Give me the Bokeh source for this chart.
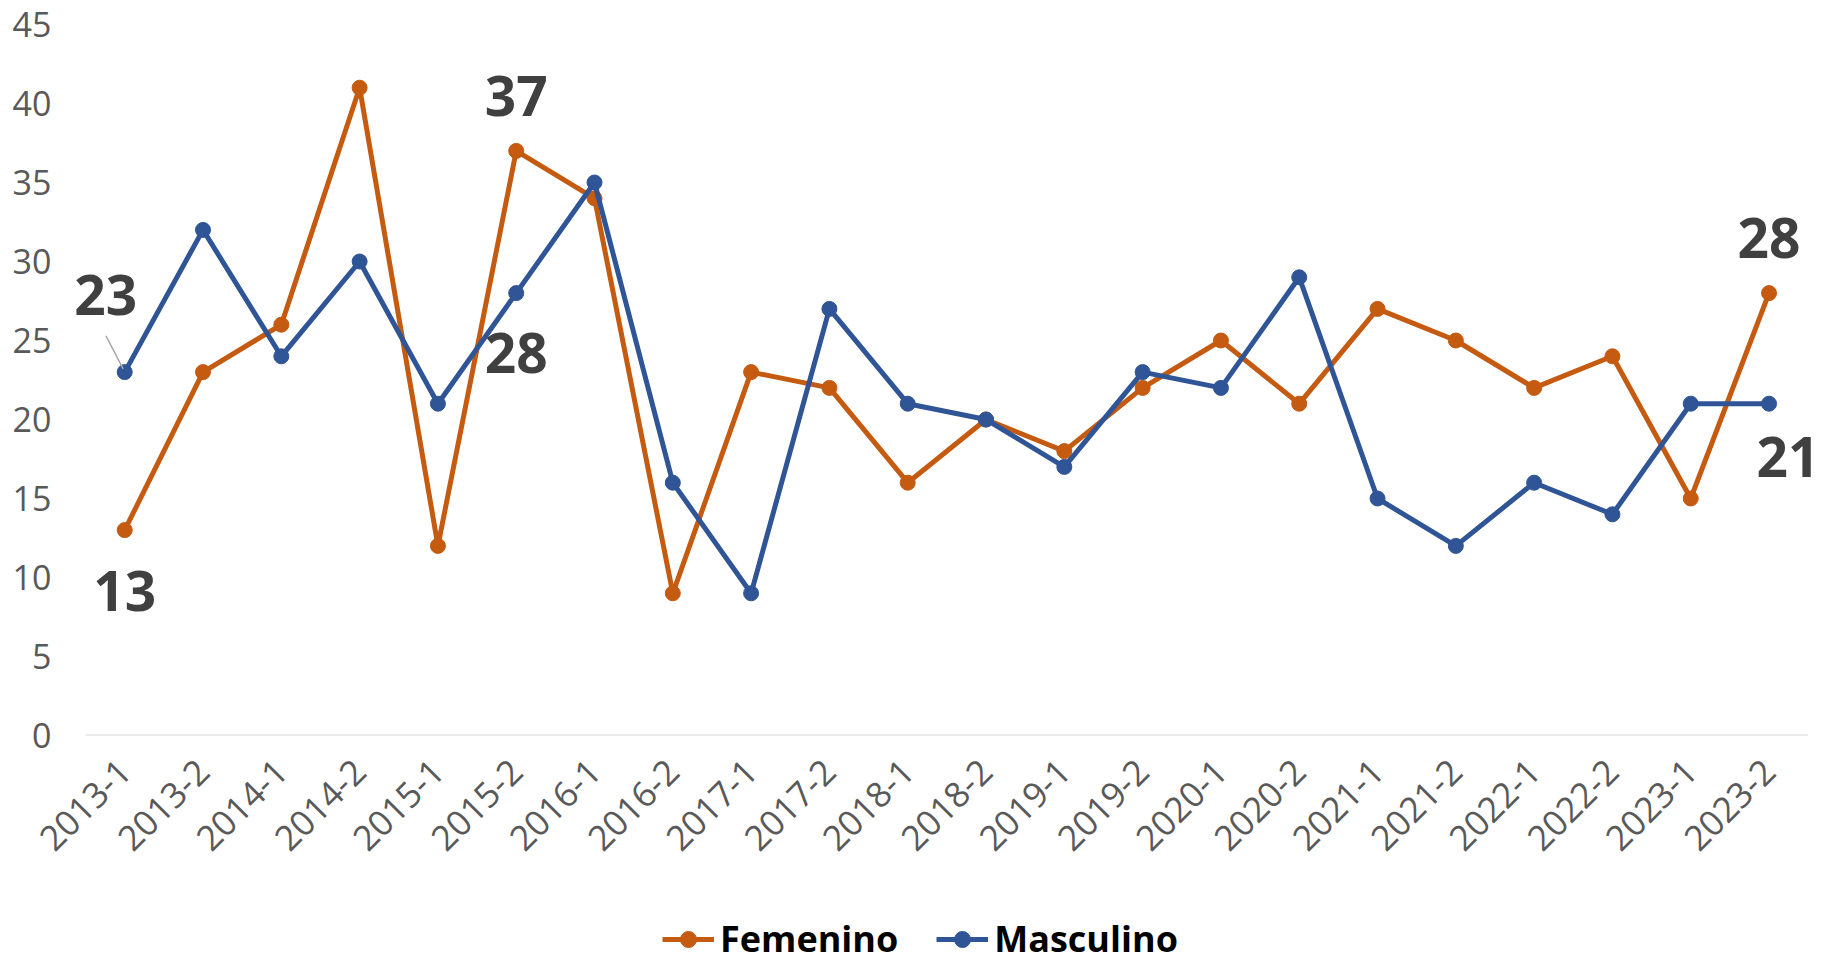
import math
from bokeh.plotting import figure
from bokeh.layouts import column
from bokeh.models import (ColumnDataSource, Range1d, FixedTicker,
                          LabelSet, Legend, LegendItem)
from bokeh.core.properties import value
from bokeh.embed import file_html
from bokeh.resources import INLINE

# ---------------- data ----------------
periods = ["2013-1", "2013-2", "2014-1", "2014-2", "2015-1", "2015-2",
           "2016-1", "2016-2", "2017-1", "2017-2", "2018-1", "2018-2",
           "2019-1", "2019-2", "2020-1", "2020-2", "2021-1", "2021-2",
           "2022-1", "2022-2", "2023-1", "2023-2"]
femenino = [13, 23, 26, 41, 12, 37, 34, 9, 23, 22, 16, 20,
            18, 22, 25, 21, 27, 25, 22, 24, 15, 28]
masculino = [23, 32, 24, 30, 21, 28, 35, 16, 9, 27, 21, 20,
             17, 23, 22, 29, 15, 12, 16, 14, 21, 21]
y_ticks = [0, 5, 10, 15, 20, 25, 30, 35, 40, 45]

# points that carry a data label
fem_label_idx = [0, 5, 21]
masc_label_idx = [0, 5, 21]

# ---------------- style ----------------
FEM = "#C55A11"
MASC = "#2F5597"
FONT = "Open Sans"
N = len(periods)
xs = list(range(N))

p = figure(width=1821, height=895,
           x_range=Range1d(-0.5 - 0.32, N - 0.5 + 0.17),
           y_range=Range1d(0, 45),
           output_backend="svg", toolbar_location=None,
           min_border_left=60, min_border_right=0,
           min_border_top=24, min_border_bottom=160)
p.outline_line_color = None
p.background_fill_color = "white"
p.border_fill_color = "white"
p.grid.visible = False

src = ColumnDataSource(dict(x=xs, fem=femenino, masc=masculino))

# category baseline (x axis line)
p.segment(x0=[-0.5], y0=[0], x1=[N - 0.5], y1=[0],
          line_color="#D9D9D9", line_width=2)

fl = p.line("x", "fem", source=src, line_color=FEM, line_width=5)
fs = p.scatter("x", "fem", source=src, size=15, color=FEM)
ml = p.line("x", "masc", source=src, line_color=MASC, line_width=5)
ms = p.scatter("x", "masc", source=src, size=15, color=MASC)

# leader line for first Masculino label
p.segment(x0=[xs[0] - 0.24], y0=[masculino[0] + 2.3],
          x1=[xs[0] - 0.02], y1=[masculino[0] + 0.2],
          line_color="#A6A6A6", line_width=1.5)

# data labels
fem_lab = ColumnDataSource(dict(
    x=[xs[i] for i in fem_label_idx],
    y=[femenino[i] for i in fem_label_idx],
    t=[str(femenino[i]) for i in fem_label_idx],
    dx=[0, 0, 0],
    dy=[-61, 55, 55]))
masc_lab = ColumnDataSource(dict(
    x=[xs[i] for i in masc_label_idx],
    y=[masculino[i] for i in masc_label_idx],
    t=[str(masculino[i]) for i in masc_label_idx],
    dx=[-19, 0, 19],
    dy=[77, -60, -53]))
for s in (fem_lab, masc_lab):
    p.add_layout(LabelSet(x="x", y="y", text="t", source=s,
                          x_offset="dx", y_offset="dy",
                          text_align="center", text_baseline="middle",
                          text_font=value(FONT), text_font_size="55px",
                          text_font_style="bold", text_color="#404040"))

# axes
p.xaxis.ticker = FixedTicker(ticks=xs)
p.xaxis.major_label_overrides = {i: lab for i, lab in zip(xs, periods)}
p.xaxis.major_label_orientation = math.pi / 4
p.xaxis.major_label_text_font = FONT
p.xaxis.major_label_text_font_size = "35px"
p.xaxis.major_label_text_color = "#595959"
p.xaxis.axis_line_color = None
p.xaxis.major_tick_line_color = None
p.xaxis.minor_tick_line_color = None
p.xaxis.major_label_standoff = 24

p.yaxis.ticker = FixedTicker(ticks=y_ticks)
p.yaxis.axis_line_color = None
p.yaxis.major_tick_line_color = None
p.yaxis.minor_tick_line_color = None
p.yaxis.major_label_text_font = FONT
p.yaxis.major_label_text_font_size = "34px"
p.yaxis.major_label_text_color = "#595959"
p.yaxis.major_label_standoff = 3

# ---------------- legend strip ----------------
# same data, drawn in an empty window: only the legend glyphs show
q = figure(width=1821, height=68, x_range=Range1d(0, 1), y_range=Range1d(100, 101),
           output_backend="svg", toolbar_location=None,
           x_axis_location=None, y_axis_location=None,
           min_border_left=0, min_border_right=0,
           min_border_top=0, min_border_bottom=0)
q.outline_line_color = None
q.grid.visible = False
q.background_fill_color = "white"
q.border_fill_color = "white"
qfl = q.line("x", "fem", source=src, line_color=FEM, line_width=5)
qfs = q.scatter("x", "fem", source=src, size=12, color=FEM)
qml = q.line("x", "masc", source=src, line_color=MASC, line_width=5)
qms = q.scatter("x", "masc", source=src, size=12, color=MASC)

legend = Legend(items=[LegendItem(label="Femenino", renderers=[qfl, qfs]),
                       LegendItem(label="Masculino", renderers=[qml, qms])],
                location=(602, 0), orientation="horizontal",
                label_text_font=FONT, label_text_font_size="36px",
                label_text_font_style="bold", label_text_color="black",
                glyph_width=52, glyph_height=40, spacing=38,
                label_standoff=6, padding=0, margin=0,
                border_line_color=None, background_fill_alpha=0)
q.add_layout(legend)

layout = column(p, q, spacing=0)
open("out.html", "w").write(file_html(layout, INLINE))
